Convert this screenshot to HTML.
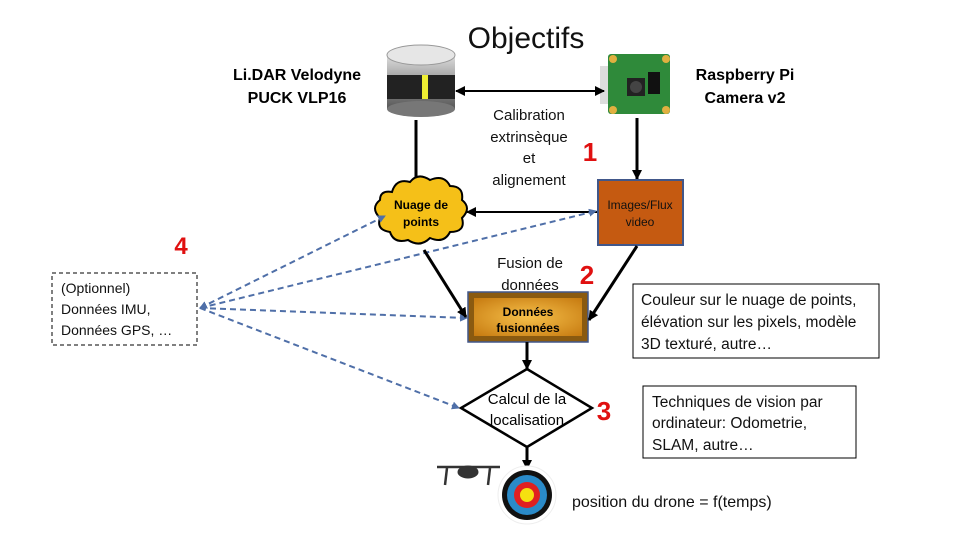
<!DOCTYPE html>
<html><head><meta charset="utf-8"><style>
html,body{margin:0;padding:0;background:#fff}
svg{display:block}
text{font-family:"Liberation Sans",sans-serif}
</style></head><body>
<svg width="960" height="540" viewBox="0 0 960 540" xmlns="http://www.w3.org/2000/svg">
<defs>
<marker id="ab" markerWidth="10" markerHeight="10" refX="9" refY="5" orient="auto" markerUnits="userSpaceOnUse"><path d="M0,0 L10,5 L0,10 z" fill="#000"/></marker>
<marker id="ab2" markerWidth="10" markerHeight="10" refX="9" refY="5" orient="auto-start-reverse" markerUnits="userSpaceOnUse"><path d="M0,0 L10,5 L0,10 z" fill="#000"/></marker>
<marker id="bl" markerWidth="8" markerHeight="8" refX="7" refY="4" orient="auto-start-reverse" markerUnits="userSpaceOnUse"><path d="M0,0 L8,4 L0,8 z" fill="#4f6fa8"/></marker>
<linearGradient id="lg" x1="0" y1="0" x2="0" y2="1"><stop offset="0" stop-color="#ddd"/><stop offset="0.5" stop-color="#999"/><stop offset="1" stop-color="#555"/></linearGradient>
<radialGradient id="og" cx="0.5" cy="0.5" r="0.7"><stop offset="0" stop-color="#f6c04a"/><stop offset="1" stop-color="#c67a10"/></radialGradient>
</defs>

<text x="526" y="48" font-size="30" text-anchor="middle" fill="#111">Objectifs</text>

<text x="297" y="80" font-size="16" font-weight="bold" text-anchor="middle">Li.DAR Velodyne</text>
<text x="297" y="103" font-size="16" font-weight="bold" text-anchor="middle">PUCK VLP16</text>
<rect x="387" y="55" width="68" height="54" fill="url(#lg)"/>
<rect x="387" y="75" width="68" height="24" fill="#222"/>
<rect x="422" y="75" width="6" height="24" fill="#ee3"/>
<ellipse cx="421" cy="109" rx="34" ry="8" fill="#777"/>
<ellipse cx="421" cy="55" rx="34" ry="10" fill="#e6e6e6" stroke="#999"/>

<rect x="608" y="54" width="62" height="60" fill="#2f8a3a" rx="3"/>
<circle cx="613" cy="59" r="4" fill="#e0b040"/><circle cx="666" cy="59" r="4" fill="#e0b040"/>
<circle cx="613" cy="110" r="4" fill="#e0b040"/><circle cx="666" cy="110" r="4" fill="#e0b040"/>
<rect x="627" y="78" width="18" height="18" fill="#222"/><circle cx="636" cy="87" r="6" fill="#444"/>
<rect x="648" y="72" width="12" height="22" fill="#111"/>
<rect x="600" y="66" width="8" height="38" fill="#ddd"/>
<text x="745" y="80" font-size="16" font-weight="bold" text-anchor="middle">Raspberry Pi</text>
<text x="745" y="103" font-size="16" font-weight="bold" text-anchor="middle">Camera v2</text>

<line x1="456" y1="91" x2="604" y2="91" stroke="#000" stroke-width="2" marker-start="url(#ab2)" marker-end="url(#ab2)"/>
<g font-size="15" text-anchor="middle" fill="#111">
<text x="529" y="120">Calibration</text><text x="529" y="142">extrinsèque</text><text x="529" y="163">et</text><text x="529" y="185">alignement</text>
</g>
<text x="590" y="161" font-size="26" font-weight="bold" fill="#e01010" text-anchor="middle">1</text>

<line x1="416" y1="120" x2="416" y2="185" stroke="#000" stroke-width="3"/>
<line x1="637" y1="118" x2="637" y2="179" stroke="#000" stroke-width="3" marker-end="url(#ab)"/>

<path d="M392,192 q4,-14 18,-10 q8,-10 20,-2 q14,-6 20,6 q14,0 12,14 q10,8 0,18 q4,14 -12,14 q-6,12 -20,6 q-10,10 -22,2 q-14,4 -18,-8 q-14,-2 -10,-14 q-10,-10 0,-18 q0,-10 12,-8z" fill="#f5c018" stroke="#000" stroke-width="2"/>
<text x="421" y="209" font-size="12" font-weight="bold" text-anchor="middle">Nuage de</text>
<text x="421" y="226" font-size="12" font-weight="bold" text-anchor="middle">points</text>

<rect x="598" y="180" width="85" height="65" fill="#c55a11" stroke="#41578a" stroke-width="2"/>
<text x="640" y="209" font-size="12" text-anchor="middle" fill="#111">Images/Flux</text>
<text x="640" y="226" font-size="12" text-anchor="middle" fill="#111">video</text>
<line x1="597" y1="212" x2="467" y2="212" stroke="#000" stroke-width="2" marker-end="url(#ab)"/>

<text x="181" y="254" font-size="24" font-weight="bold" fill="#e01010" text-anchor="middle">4</text>
<rect x="52" y="273" width="145" height="72" fill="#fff" stroke="#000" stroke-dasharray="4,3"/>
<g font-size="14" fill="#111"><text x="61" y="293">(Optionnel)</text><text x="61" y="314">Données IMU,</text><text x="61" y="335">Données  GPS, …</text></g>

<g stroke="#4f6fa8" stroke-width="2" stroke-dasharray="6,4" fill="none">
<line x1="200" y1="308" x2="385" y2="216" marker-start="url(#bl)" marker-end="url(#bl)"/>
<line x1="200" y1="308" x2="596" y2="211" marker-end="url(#bl)"/>
<line x1="200" y1="308" x2="467" y2="318" marker-end="url(#bl)"/>
<line x1="200" y1="308" x2="459" y2="408" marker-end="url(#bl)"/>
</g>

<g font-size="15" text-anchor="middle" fill="#111"><text x="530" y="268">Fusion de</text><text x="530" y="290">données</text></g>
<text x="587" y="284" font-size="26" font-weight="bold" fill="#e01010" text-anchor="middle">2</text>

<rect x="468" y="292" width="120" height="50" fill="#8a5a10" stroke="#41578a" stroke-width="1.5"/>
<rect x="474" y="298" width="108" height="38" fill="url(#og)"/>
<text x="528" y="316" font-size="12" font-weight="bold" text-anchor="middle">Données</text>
<text x="528" y="332" font-size="12" font-weight="bold" text-anchor="middle">fusionnées</text>

<line x1="424" y1="250" x2="466" y2="317" stroke="#000" stroke-width="3" marker-end="url(#ab)"/>
<line x1="637" y1="246" x2="589" y2="320" stroke="#000" stroke-width="3" marker-end="url(#ab)"/>
<line x1="527" y1="342" x2="527" y2="369" stroke="#000" stroke-width="3" marker-end="url(#ab)"/>

<polygon points="527,369 592,408 527,447 461,408" fill="#fff" stroke="#000" stroke-width="2.5"/>
<text x="527" y="404" font-size="15" text-anchor="middle">Calcul de la</text>
<text x="527" y="425" font-size="15" text-anchor="middle">localisation</text>
<text x="604" y="420" font-size="26" font-weight="bold" fill="#e01010" text-anchor="middle">3</text>

<line x1="527" y1="447" x2="527" y2="469" stroke="#000" stroke-width="3" marker-end="url(#ab)"/>
<circle cx="527" cy="495" r="29" fill="#fff" stroke="#eee"/>
<circle cx="527" cy="495" r="25" fill="#111"/>
<circle cx="527" cy="495" r="20" fill="#2a8ac8"/>
<circle cx="527" cy="495" r="13" fill="#e02020"/>
<circle cx="527" cy="495" r="7" fill="#f5e010"/>

<g fill="#333" stroke="#333">
<line x1="437" y1="467" x2="500" y2="467" stroke-width="2.5"/>
<ellipse cx="468" cy="472" rx="10" ry="6"/>
<line x1="447" y1="468" x2="445" y2="485" stroke-width="2.5"/>
<line x1="490" y1="468" x2="488" y2="485" stroke-width="2.5"/>
</g>
<text x="572" y="507" font-size="16" fill="#111">position du drone = f(temps)</text>

<rect x="633" y="284" width="246" height="74" fill="#fff" stroke="#000"/>
<g font-size="15.5" fill="#111"><text x="641" y="305">Couleur sur le nuage de points,</text><text x="641" y="327">élévation sur les pixels, modèle</text><text x="641" y="349">3D texturé, autre…</text></g>
<rect x="643" y="386" width="213" height="72" fill="#fff" stroke="#000"/>
<g font-size="15.5" fill="#111"><text x="652" y="407">Techniques de vision par</text><text x="652" y="428">ordinateur: Odometrie,</text><text x="652" y="450">SLAM, autre…</text></g>
</svg>
</body></html>
